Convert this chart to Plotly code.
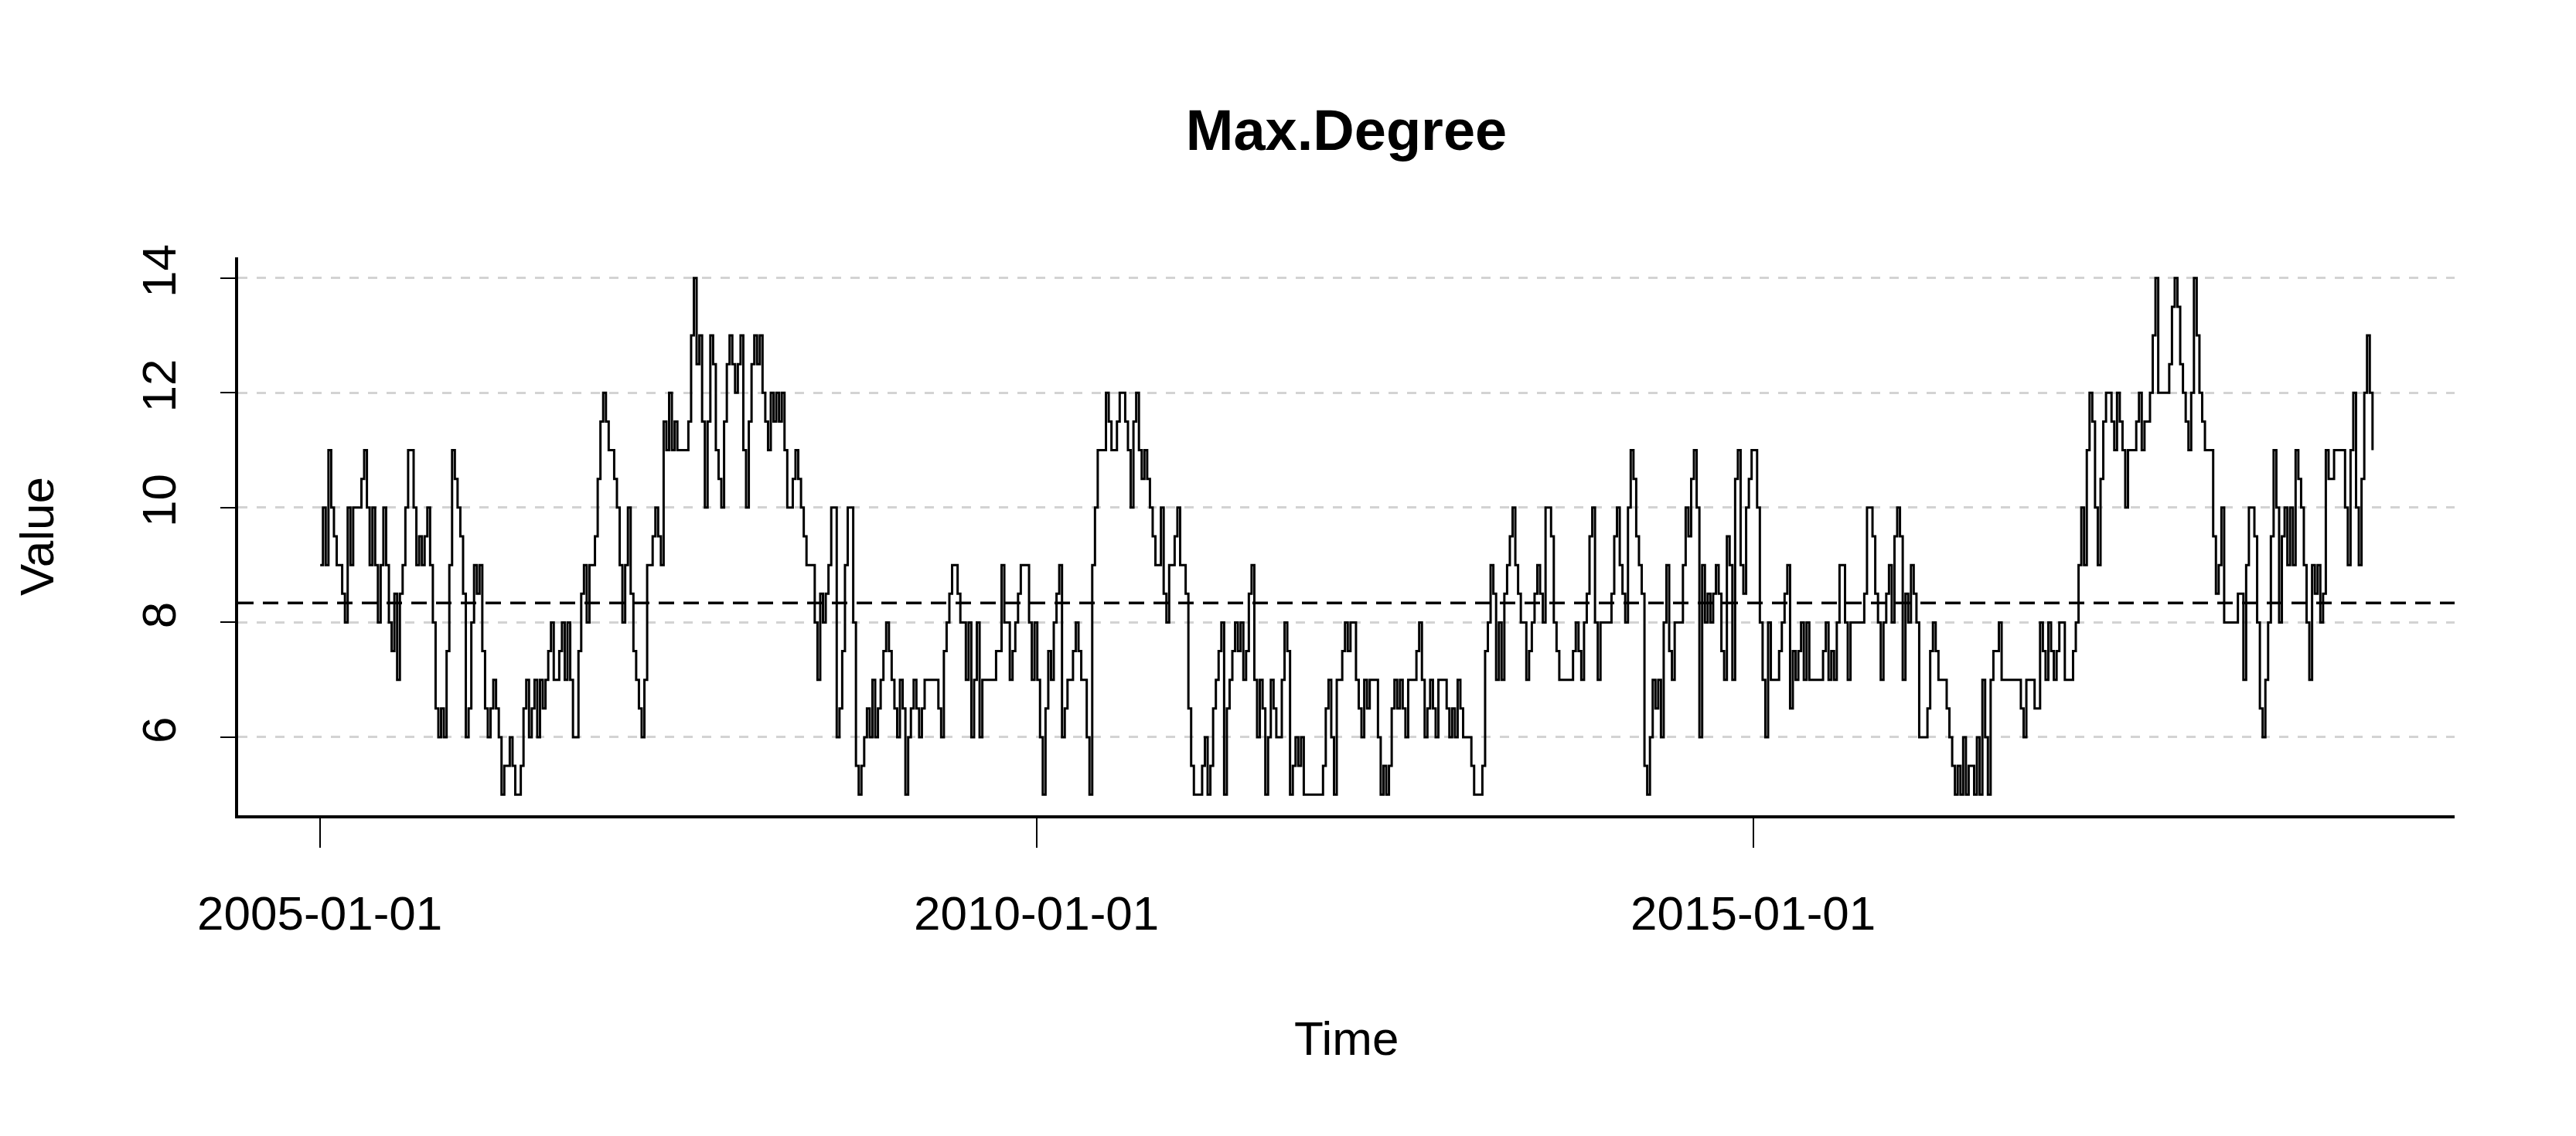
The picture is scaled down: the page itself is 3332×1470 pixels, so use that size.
import pandas as pd
import plotly.graph_objects as go

# ---- data (weekly values) ----
seg1 = [9,10,9,11,10,9.5,9,9,8.5,8, 10,9,10,10,10,10.5,11,10,9,10,
        9,8,9,10,9,8,7.5,8.5,7,8.5, 9,10,11,11,10,9,9.5,9,9.5,10,
        9,8,6.5,6,6.5,6,7.5,9,11,10.5, 10,9.5,8.5,6,6.5,8,9,8.5,9,7.5,
        6.5,6,6.5,7,6.5,6,5,5.5,5.5,6, 5.5,5,5,5.5,6.5,7,6,6.5,7,6,
        7,6.5,7,7.5,8,7,7,7.5,8,7, 8,7,6,6,7.5,8.5,9,8,9,9,
        9.5,10.5,11.5,12,11.5,11,11,10.5,10,9, 8,9,10,8.5,7.5,7,6.5,6,7,9,
        9,9.5,10,9.5]
seg2 = [9,11.5,11,12,11,11.5,11,11,11,11,
        11.5,13,14,12.5,13,11.5,10,11.5,13,12.5,
        11,10.5,10,11.5,12.5,13,12.5,12,12.5,13,
        11,10,11.5,12.5,13,12.5,13,12,11.5,11,
        12,11.5,12,11.5,12,11,10,10,10.5,11,
        10.5,10,9.5,9,9,9,8,7,8.5,8,
        8.5,9,10,10,6,6.5,7.5,9,10,10,
        8,5.5,5,5.5,6,6.5,6,7,6,6.5,
        7,7.5,8,7.5,7,6.5,6,7,6.5,5,
        6,6.5,7,6.5,6,6.5,7,7,7,7,
        7,6.5,6,7.5,8,8.5,9,9,8.5,8,
        8,7,8,6,7,8,6,7,7,7,
        7,7,7.5,7.5,9,8]
seg3 = [8,7,7.5,8,8.5,9,9,9,8,7,
        8,7,6,5,6.5,7.5,7,8,8.5,9,
        6,6.5,7,7,7.5,8,7.5,7,7,6,
        5,9,10,11,11,11,12,11.5,11,11,
        11.5,12,12,11.5,11,10,11.5,12,11,10.5,
        11,10.5,10,9.5,9,9,10,8.5,8,9,
        9,9.5,10,9,9,8.5,6.5,5.5,5,5,
        5,5.5,6,5,5.5,6.5,7,7.5,8,5,
        6.5,7,7.5,8,7.5,8,7,7.5,8.5,9,
        7,6,7,6.5,5,6,7,6.5,6,6,
        7,8,7.5,5,5.5,6,5.5,6,5,5,
        5,5,5,5,5,5.5,6.5,7,6,5,
        7,7,7.5,8]
seg4 = [7.5,8,8,7,6.5,6,7,6.5,7,7,
        7,6,5,5.5,5,5.5,6.5,7,6.5,7,
        6.5,6,7,7,7,7.5,8,7,6,6.5,
        7,6.5,6,7,7,7,6.5,6,6.5,6,
        7,6.5,6,6,6,5.5,5,5,5,5.5,
        7.5,8,9,8.5,7,8,7,8.5,9,9.5,
        10,9,8.5,8,8,7,7.5,8,8.5,9,
        8.5,8,10,10,9.5,8,7.5,7,7,7,
        7,7,7.5,8,7.5,7,8,8.5,9.5,10,
        8,7,8,8,8,8,8.5,9.5,10,9,
        8.5,8,10,11,10.5,9.5,9,8.5,5.5,5,
        6,7,6.5,7,6,8,9,7.5,7,8,
        8,8,9,10,9.5,10.5]
seg5 = [11,10,6,9,8,8.5,8,8.5,9,8.5,
        7.5,7,9.5,9,7,10.5,11,9,8.5,10,
        10.5,11,11,10,8,7,6,8,7,7,
        7,7.5,8,8.5,9,6.5,7.5,7,7.5,8,
        7,8,7,7,7,7,7,7.5,8,7,
        7.5,7,8,9,9,8,7,8,8,8,
        8,8,8.5,10,10,9.5,8.5,8,7,8,
        8.5,9,8,9.5,10,9.5,7,8.5,8,9,
        8.5,8,6,6,6,6.5,7.5,8,7.5,7,
        7,7,6.5,6,5.5,5,5.5,5,6,5,
        5.5,5.5,5,6,5,7,6,5,7,7.5,
        7.5,8,7,7,7,7,7,7,7,6.5,
        6,7,7,7,6.5]
seg6 = [6.5,8,7.5,7,8,7.5,7,7.5,8,8,
        7,7,7,7.5,8,9,10,9,11,12,
        11.5,10,9,10.5,11.5,12,12,11.5,11,12,
        11.5,11,10,11,11,11,11.5,12,11,11.5,
        11.5,12,13,14,12,12,12,12,12.5,13.5,
        14,13.5,12.5,12,11.5,11,12,14,13,12,
        11.5,11,11,11,9.5,8.5,9,10,8,8,
        8,8,8,8.5,8.5,7,9,10,10,9.5,
        8,6.5,6,7,8,9.5,11,10,8,9.5,
        10,9,10,9,11,10.5,10,9,8,7,
        9,8.5,9,8,8.5,11,10.5,10.5,11,11,
        11,11,10,9,11,12,10,9,10.5,12,
        13,12,11]
values = seg1 + seg2 + seg3 + seg4 + seg5 + seg6
start_date = "2005-01-02"
dates = pd.date_range(start_date, periods=len(values), freq="7D")
mean_value = 8.34

y_ticks = [6, 8, 10, 12, 14]
x_ticks = ["2005-01-01", "2010-01-01", "2015-01-01"]
y_range = [4.64, 14.36]

# R-style 4% padding on the time axis
span = dates[-1] - dates[0]
x_range = [dates[0] - 0.04 * span, dates[-1] + 0.04 * span]

FONT = "Liberation Sans, Arial, sans-serif"

fig = go.Figure()
fig.add_trace(go.Scatter(
    x=dates, y=values, mode="lines",
    line=dict(color="black", width=3, shape="hv"),
    showlegend=False, hoverinfo="skip"))

fig.add_hline(y=mean_value, line=dict(color="black", width=3.5, dash="20px,12px"))

fig.update_layout(
    width=3332, height=1470,
    margin=dict(l=300, r=165, t=325, b=423),
    plot_bgcolor="white", paper_bgcolor="white",
    font=dict(family=FONT, size=62, color="black"),
    title=dict(text="<b>Max.Degree</b>", x=0.5, xref="paper", xanchor="center",
               y=1 - 160 / 1470, yref="container", yanchor="middle",
               font=dict(family=FONT, size=74, color="black")),
    xaxis=dict(range=x_range, showgrid=False, zeroline=False,
               showline=True, linecolor="black", linewidth=4,
               ticks="outside", ticklen=38, tickwidth=2, tickcolor="black",
               tickvals=x_ticks, ticktext=x_ticks,
               ticklabelstandoff=32,
               tickfont=dict(family=FONT, size=62)),
    yaxis=dict(range=y_range, showgrid=True, gridcolor="#D3D3D3", gridwidth=3,
               griddash="12px,12px", zeroline=False,
               showline=True, linecolor="black", linewidth=4,
               ticks="outside", ticklen=19, tickwidth=2, tickcolor="black",
               tickvals=y_ticks, tickangle=-90,
               ticklabelstandoff=33,
               tickfont=dict(family=FONT, size=62)),
    annotations=[
        dict(text="Time", xref="paper", yref="paper", x=0.5, y=-(1343 - 1055) / 722,
             xanchor="center", yanchor="middle", showarrow=False,
             font=dict(family=FONT, size=62)),
        dict(text="Value", xref="paper", yref="paper", x=(47 - 308) / 2867, y=0.5,
             xanchor="center", yanchor="middle", showarrow=False, textangle=-90,
             font=dict(family=FONT, size=62)),
    ],
)

fig.write_html("out.html")
